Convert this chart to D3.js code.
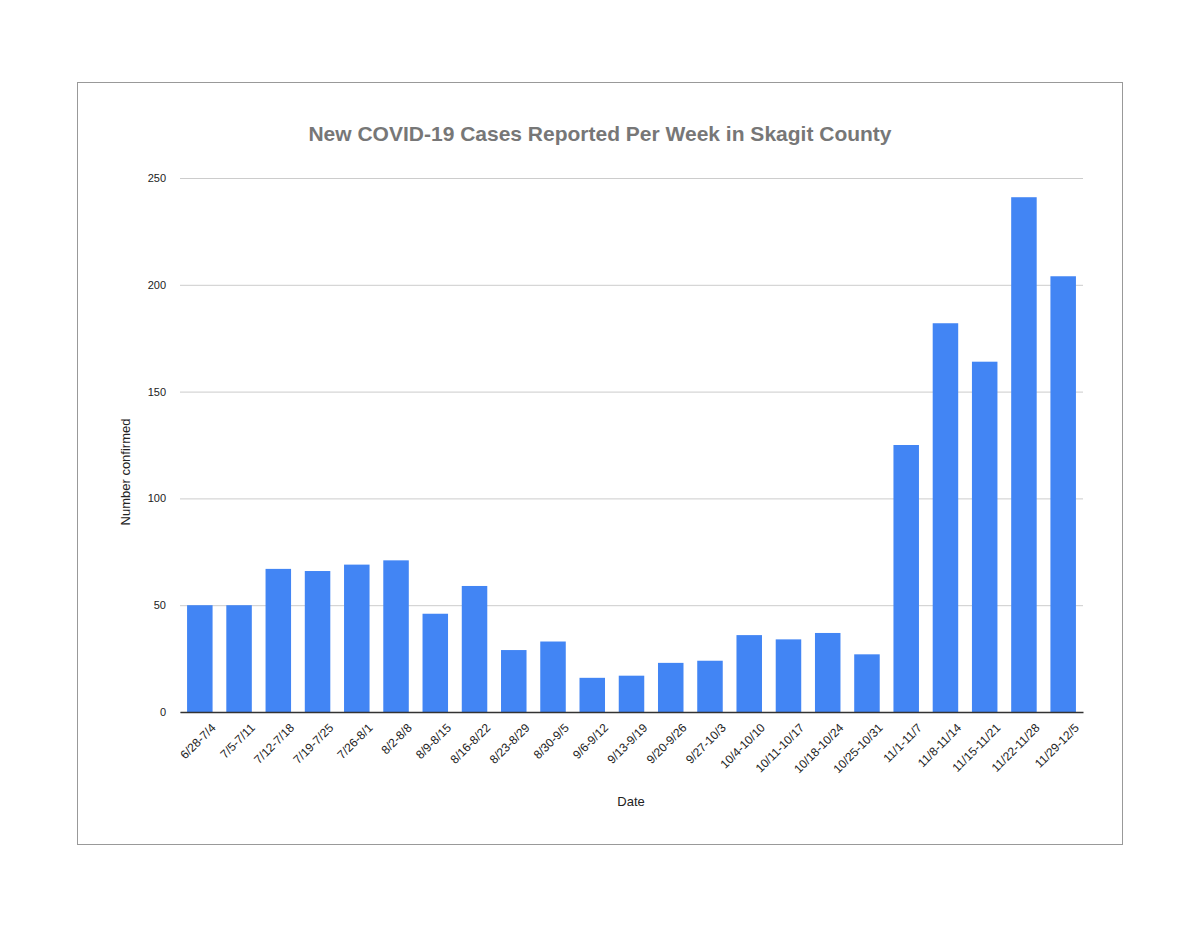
<!DOCTYPE html>
<html><head><meta charset="utf-8">
<script src="https://cdn.jsdelivr.net/npm/d3@7"></script>
<style>body{margin:0;background:#fff}text{font-family:"Liberation Sans",Arial,sans-serif}</style>
</head><body><svg id="c" width="1200" height="927"></svg>
<script>
const categories=["6/28-7/4","7/5-7/11","7/12-7/18","7/19-7/25","7/26-8/1","8/2-8/8","8/9-8/15","8/16-8/22","8/23-8/29","8/30-9/5","9/6-9/12","9/13-9/19","9/20-9/26","9/27-10/3","10/4-10/10","10/11-10/17","10/18-10/24","10/25-10/31","11/1-11/7","11/8-11/14","11/15-11/21","11/22-11/28","11/29-12/5"];
const cases=[50,50,67,66,69,71,46,59,29,33,16,17,23,24,36,34,37,27,125,182,164,241,204];
const yTicks=[0,50,100,150,200,250];
const svg=d3.select("#c");
svg.append("rect").attr("x",77.5).attr("y",82.5).attr("width",1045).attr("height",762).attr("fill","#fff").attr("stroke","#999");
const x=d3.scaleBand().domain(categories).range([180,1083]).paddingInner(0.35).paddingOuter(0.18);
const y=d3.scaleLinear().domain([0,250]).range([712,178]);
const yg=svg.append("g").attr("transform","translate(180,0)").call(d3.axisLeft(y).tickValues(yTicks).tickSize(-903).tickPadding(14));
yg.select(".domain").remove();
yg.selectAll(".tick line").attr("stroke","#ccc");
yg.selectAll(".tick text").attr("font-size",11).attr("fill","#222");
svg.selectAll(".bar").data(cases).join("rect").attr("fill","#4285f4")
 .attr("x",(d,i)=>x(categories[i])).attr("width",x.bandwidth()).attr("y",d=>y(d)).attr("height",d=>712-y(d));
const xg=svg.append("g").attr("transform","translate(0,712)").call(d3.axisBottom(x).tickSize(0).tickPadding(8));
xg.select(".domain").attr("stroke","#333").attr("stroke-width",1.5);
xg.selectAll(".tick text").attr("font-size",12).attr("fill","#222").attr("text-anchor","end")
 .attr("transform","translate(8,8) rotate(-45)").attr("dy","0.35em");
svg.append("text").attr("x",600).attr("y",141).attr("text-anchor","middle").attr("font-size",21).attr("font-weight","bold").attr("fill","#777").text("New COVID-19 Cases Reported Per Week in Skagit County");
svg.append("text").attr("x",631).attr("y",806).attr("text-anchor","middle").attr("font-size",13).attr("fill","#222").text("Date");
svg.append("text").attr("transform","translate(130,472) rotate(-90)").attr("text-anchor","middle").attr("font-size",13).attr("fill","#222").text("Number confirmed");
</script></body></html>
